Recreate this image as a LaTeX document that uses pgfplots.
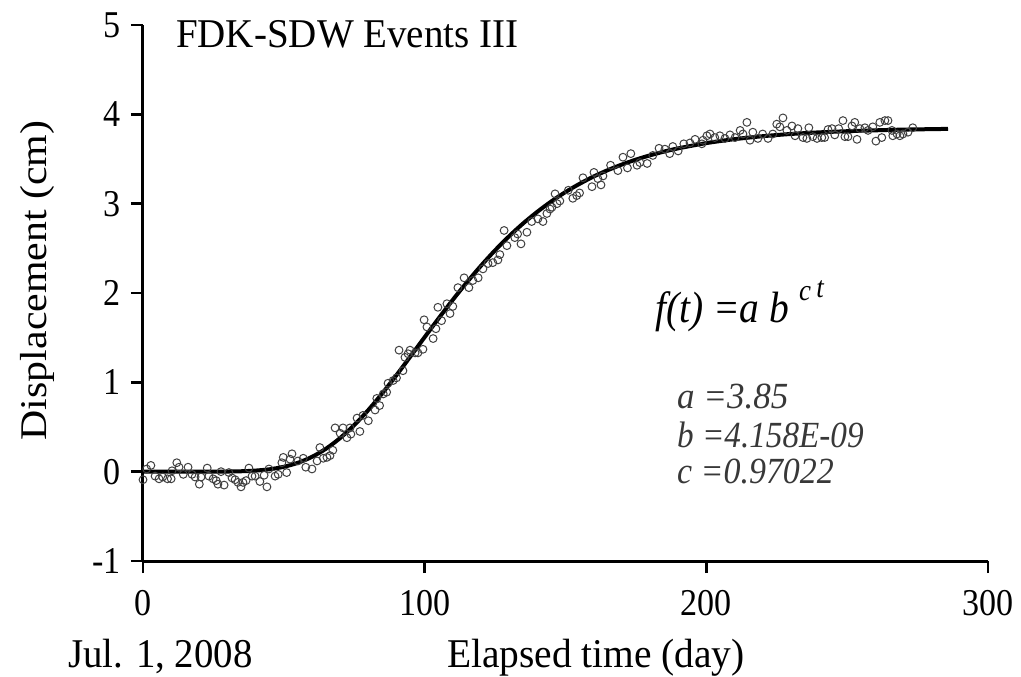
\documentclass[border=0pt]{standalone}
\usepackage{pgfplots}
\pgfplotsset{compat=1.18}
\usepackage{fontspec}
\setmainfont{Liberation Serif}
\begin{document}
\begin{tikzpicture}
\path[use as bounding box] (-143bp,-116bp) rectangle (878bp,561bp);
\begin{axis}[
  scale only axis, width=845bp, height=536bp,
  xmin=0, xmax=300, ymin=-1, ymax=5,
  axis x line*=bottom, axis y line*=left,
  axis line style={-, line width=3bp, black},
  xtick={0,100,200,300}, ytick={-1,0,1,2,3,4,5},
  tick align=outside, major tick length=12bp,
  tick style={line width=2.8bp, black},
  /pgf/number format/assume math mode=true,
  xticklabel style={font=\fontsize{38}{40}\selectfont, xscale=0.9, yshift=-14bp},
  yticklabel style={font=\fontsize{38}{40}\selectfont, xscale=0.9, xshift=-8bp},
  clip=false,
]
\addplot[only marks, mark=o, mark size=3.9bp, mark options={draw=black!75, line width=1bp}] coordinates {
(0,-0.09)(1.3,0.03)(2.8,0.07)(4.3,-0.05)(5.7,-0.08)(7,-0.06)(8.7,-0.08)(10,-0.08)(10.3,0.01)(12,0.1)(12.8,0.05)(14.3,-0.03)(16,0.05)(17.4,-0.03)(18.5,-0.06)(20,-0.14)(20.6,-0.06)(22.8,0.04)(23.4,-0.05)(24.9,-0.08)(26,-0.1)(26.6,-0.14)(27.7,0)(28.8,-0.15)(30.5,-0.01)(31.6,-0.07)(32.7,-0.09)(33.7,-0.12)(34.8,-0.17)(35.5,-0.12)(36.6,-0.1)(37.6,0.04)(38.7,-0.05)(39.8,-0.05)(41.5,-0.11)(43,-0.04)(44,-0.17)(44.7,0.03)(46.9,-0.05)(48,-0.03)(49.3,0.1)(49.8,0.16)
(51,-0.01)(52.2,0.14)(52.9,0.2)(55,0.12)(56.9,0.15)(57.8,0.05)(60,0.03)(61.8,0.12)(62.8,0.27)(64,0.15)(65.3,0.16)(66.4,0.18)(67.4,0.24)(68.2,0.49)(70,0.43)(71,0.49)(72.4,0.38)(73.5,0.49)(73.8,0.42)(76,0.6)(77,0.45)(78.1,0.63)(80,0.57)(82.4,0.69)(83,0.82)(84,0.74)(85.3,0.87)(86.5,0.89)(87,0.99)(88.8,1.02)(90,1.05)(90.9,1.36)(92.3,1.13)(93,1.28)(94.1,1.32)(94.8,1.36)(96.6,1.33)(97.6,1.33)(99.4,1.37)
(99.8,1.70)(100.8,1.62)(103,1.49)(104,1.60)(104.7,1.84)(106,1.69)(107.9,1.88)(109,1.77)(110,1.85)(111.8,2.06)(114,2.17)(115.7,2.06)(117.1,2.14)(119,2.17)(120.7,2.27)(122.5,2.33)(124.2,2.34)(126,2.37)(126.7,2.43)(128.2,2.70)(129.2,2.53)(132,2.62)(133,2.66)(134.2,2.55)(136.3,2.68)(138,2.80)(140.2,2.83)(142,2.80)(143.4,2.89)(145.2,2.96)(147,3.0)
(144.5,2.94)(146.3,3.11)(148,3.03)(151,3.15)(152.6,3.06)(154,3.09)(155,3.12)(156.2,3.29)(159.4,3.19)(160.1,3.35)(161.5,3.28)(162.6,3.21)(163.3,3.31)(166,3.43)(168.6,3.37)(170.4,3.52)(172,3.40)(173.2,3.56)(175.4,3.43)(176.4,3.46)(179,3.45)(181,3.54)(183.2,3.62)(185.3,3.61)(187,3.56)(188.1,3.64)(190,3.59)(192,3.67)(194.2,3.68)(196,3.72)(198.4,3.67)
(198.8,3.71)(200.2,3.76)(201.3,3.78)(203,3.74)(204.8,3.76)(206.6,3.73)(208.4,3.77)(210.2,3.74)(212,3.82)(213,3.78)(214.4,3.91)(215.5,3.71)(216.5,3.80)(218.3,3.73)(220,3.78)(221.9,3.73)(223.6,3.78)(225,3.89)(226.1,3.86)(227.2,3.96)(228.6,3.82)(230.4,3.87)(231.5,3.76)(232.5,3.84)(234.3,3.74)(235.7,3.73)(236.4,3.85)(237.8,3.75)(239.3,3.73)(241,3.74)(242,3.74)(243.2,3.83)(244.6,3.84)(245.6,3.77)(247,3.84)(248.5,3.93)(249.2,3.75)(250.3,3.75)(251.7,3.87)(252.7,3.91)(253.5,3.72)(254.5,3.84)(256.3,3.85)(257.4,3.82)(259.1,3.86)(260.2,3.70)(261.6,3.91)(262.3,3.74)(263.4,3.93)(264.5,3.93)(265.9,3.82)(266.2,3.76)(267.7,3.78)(268.7,3.76)(269.8,3.78)(271.6,3.80)(273.3,3.85)
};
\addplot[black, line width=4bp, smooth] coordinates {
(0,0)(10,0)(20,0.0001)(30,0.0016)(35,0.0047)(40,0.0122)(45,0.0272)(50,0.0546)(55,0.0992)(60,0.1657)(65,0.2577)(70,0.3766)(75,0.5216)(80,0.690)(85,0.879)(90,1.081)(95,1.292)(100,1.506)(105,1.718)(110,1.924)(115,2.120)(120,2.305)(125,2.478)(130,2.636)(135,2.780)(140,2.909)(145,3.026)(150,3.130)(155,3.222)(160,3.304)(165,3.375)(170,3.438)(175,3.493)(180,3.541)(185,3.583)(190,3.619)(200,3.678)(210,3.722)(220,3.755)(230,3.780)(240,3.798)(250,3.811)(260,3.821)(270,3.829)(285.8,3.837)
};
\node[anchor=base west, font=\fontsize{41}{44}\selectfont, xscale=0.955, inner sep=0pt] at (axis cs:11.7,4.75) {FDK-SDW Events III};
\node[anchor=base west, font=\fontsize{44}{46}\selectfont\itshape, xscale=0.9, inner sep=0pt] at (axis cs:181.8,1.669) {f(t) =a b\hspace{0.25em}\raisebox{0.5em}{\fontsize{30}{32}\selectfont c\hspace{0.2em}\raisebox{0.12em}{t}}};
\node[anchor=base west, font=\fontsize{37}{40}\selectfont\itshape, text=black!78, xscale=0.95, inner sep=0pt] at (axis cs:189.6,0.705) {a =3.85};
\node[anchor=base west, font=\fontsize{37}{40}\selectfont\itshape, text=black!78, xscale=0.9, inner sep=0pt] at (axis cs:189.6,0.269) {b =4.158E-09};
\node[anchor=base west, font=\fontsize{37}{40}\selectfont\itshape, text=black!78, xscale=0.92, inner sep=0pt] at (axis cs:189.6,-0.134) {c =0.97022};
\node[anchor=base west, font=\fontsize{41}{44}\selectfont, xscale=0.95, inner sep=0pt] at (axis cs:-26.6,-2.195) {Jul. 1, 2008};
\node[anchor=base west, font=\fontsize{41}{44}\selectfont, xscale=0.965, inner sep=0pt] at (axis cs:107.9,-2.195) {Elapsed time (day)};
\node[rotate=90, anchor=center, font=\fontsize{42}{44}\selectfont, yscale=0.9, inner sep=0pt] at (axis cs:-37.6,2.14) {Displacement (cm)};
\end{axis}
\end{tikzpicture}
\end{document}
